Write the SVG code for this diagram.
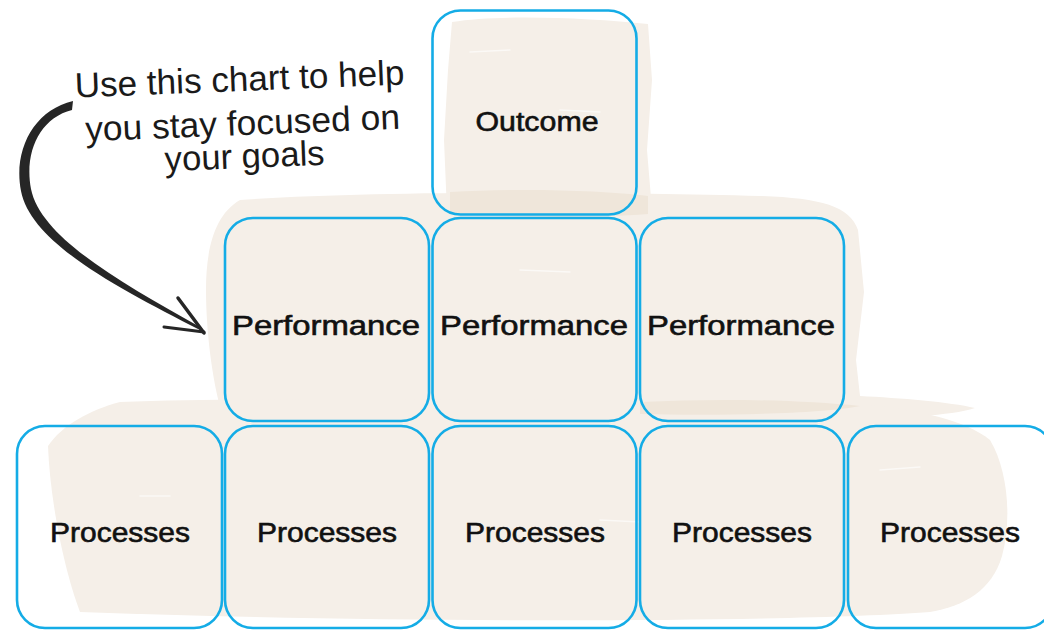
<svg xmlns="http://www.w3.org/2000/svg" width="1044" height="630" viewBox="0 0 1044 630">
  <defs>
    <style>
      .brush { fill: #f5efe8; }
      .brush-dark { fill: #efe6da; }
      .streak { stroke: #ffffff; stroke-width: 1.5; stroke-linecap: round; opacity: 0.6; fill: none; }
      .box { fill: none; stroke: #14ace6; stroke-width: 2.6; }
      .label { font-family: "Liberation Sans", Arial, sans-serif; font-size: 27px; fill: #111111; stroke: #111111; stroke-width: 0.6; text-anchor: middle; }
      .note { font-family: "Liberation Sans", Arial, sans-serif; font-size: 35px; fill: #1a1a1a; text-anchor: middle; }
      .ink { fill: #262626; }
      .ink-line { fill: none; stroke: #262626; stroke-linecap: round; }
    </style>
  </defs>

  <rect width="1044" height="630" fill="#ffffff"/>

  <!-- painted backdrop strokes -->
  <g id="backdrop">
    <path class="brush" d="M452,22 C500,14 590,18 648,24 L652,80 L647,150 L652,210 C590,218 500,216 447,212 L444,140 L448,70 Z"/>
    <path class="brush" d="M240,200 C380,190 620,192 760,196 C820,198 850,206 858,230 L864,292 L856,360 L860,396 C900,398 950,402 975,408 C950,416 900,418 850,418 C600,420 350,418 222,414 C212,380 206,330 206,290 C206,250 214,215 240,200 Z"/>
    <path class="brush" d="M120,402 C300,396 600,400 860,404 C920,410 965,420 990,440 C1008,470 1012,520 1002,556 C992,590 965,606 930,612 C800,622 400,624 80,612 C64,570 50,500 48,446 C62,425 90,410 120,402 Z"/>
    <path class="brush-dark" d="M450,192 C520,188 600,190 648,196 L648,214 C600,218 520,218 450,214 Z"/>
    <path class="brush-dark" d="M640,402 C720,398 800,400 860,406 C820,414 720,416 640,414 Z"/>
    <path class="streak" d="M470,52 L510,50 M560,110 L600,112 M520,270 L570,272 M140,496 L170,496 M600,520 L640,522 M880,470 L920,467"/>
  </g>

  <!-- hand-written note -->
  <g id="note">
    <text class="note" x="240" y="91" textLength="330" lengthAdjust="spacingAndGlyphs" transform="rotate(-2.3 240 91)">Use this chart to help</text>
    <text class="note" x="243" y="135" textLength="315" lengthAdjust="spacingAndGlyphs" transform="rotate(-2.3 243 135)">you stay focused on</text>
    <text class="note" x="245" y="168" textLength="160" lengthAdjust="spacingAndGlyphs" transform="rotate(-2.3 245 168)">your goals</text>
  </g>

  <!-- pointer from the note to the chart -->
  <g id="connectors">
    <path class="ink" d="M73,101 C34,110 13,150 21,191 C31,243 118,288 200,330 L200,327 C122,283 41,238 31,189 C24,152 40,118 72,110 Z"/>
    <path class="ink-line" stroke-width="3.5" d="M178,298 L204,333"/>
    <path class="ink-line" stroke-width="3" d="M164,327 L204,332"/>
  </g>

  <!-- top tier -->
  <g id="outcome">
    <rect class="box" x="432.5" y="10.5" width="204" height="204" rx="28"/>
    <text class="label" x="537" y="131" textLength="123" lengthAdjust="spacingAndGlyphs">Outcome</text>
  </g>

  <!-- middle tier -->
  <g id="performance-1">
    <rect class="box" x="225" y="218" width="204" height="203" rx="28"/>
    <text class="label" x="326" y="335" textLength="188" lengthAdjust="spacingAndGlyphs">Performance</text>
  </g>
  <g id="performance-2">
    <rect class="box" x="432.5" y="218" width="204" height="203" rx="28"/>
    <text class="label" x="534" y="335" textLength="188" lengthAdjust="spacingAndGlyphs">Performance</text>
  </g>
  <g id="performance-3">
    <rect class="box" x="640" y="218" width="204" height="203" rx="28"/>
    <text class="label" x="741" y="335" textLength="188" lengthAdjust="spacingAndGlyphs">Performance</text>
  </g>

  <!-- bottom tier -->
  <g id="processes-1">
    <rect class="box" x="17" y="426" width="205" height="202" rx="28"/>
    <text class="label" x="120" y="542" textLength="140" lengthAdjust="spacingAndGlyphs">Processes</text>
  </g>
  <g id="processes-2">
    <rect class="box" x="225" y="426" width="204" height="202" rx="28"/>
    <text class="label" x="327" y="542" textLength="140" lengthAdjust="spacingAndGlyphs">Processes</text>
  </g>
  <g id="processes-3">
    <rect class="box" x="432.5" y="426" width="204" height="202" rx="28"/>
    <text class="label" x="535" y="542" textLength="140" lengthAdjust="spacingAndGlyphs">Processes</text>
  </g>
  <g id="processes-4">
    <rect class="box" x="640" y="426" width="204" height="202" rx="28"/>
    <text class="label" x="742" y="542" textLength="140" lengthAdjust="spacingAndGlyphs">Processes</text>
  </g>
  <g id="processes-5">
    <rect class="box" x="848" y="426" width="205" height="202" rx="28"/>
    <text class="label" x="950" y="542" textLength="140" lengthAdjust="spacingAndGlyphs">Processes</text>
  </g>
</svg>
